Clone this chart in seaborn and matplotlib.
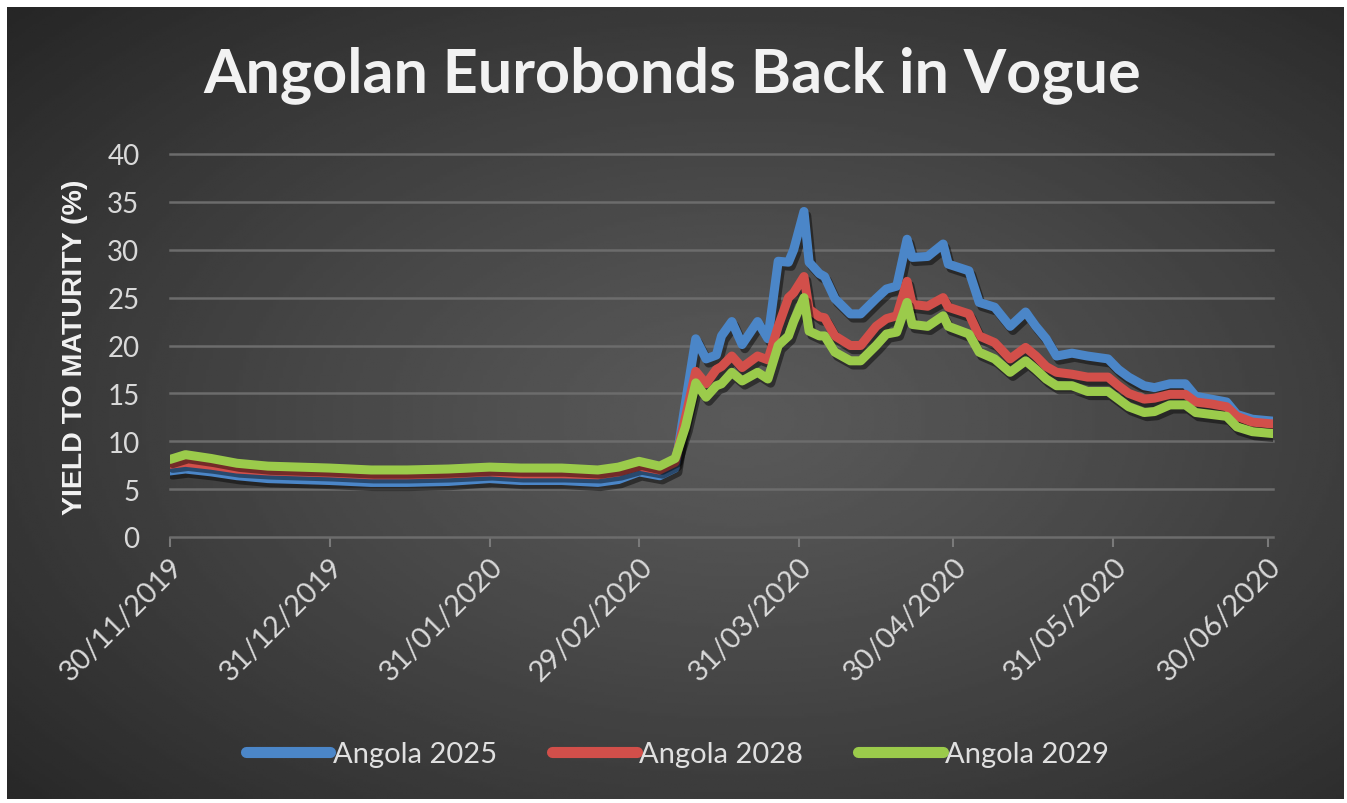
import numpy as np
import pandas as pd
import matplotlib
matplotlib.use("Agg")
import matplotlib.pyplot as plt
import matplotlib.dates as mdates
import matplotlib.patheffects as pe
import seaborn as sns

# ---------------- data ----------------
dates = [
    "2019-11-30", "2019-12-03", "2019-12-08", "2019-12-13", "2019-12-19", "2019-12-25", "2019-12-31",
    "2020-01-08", "2020-01-15", "2020-01-23", "2020-01-31", "2020-02-06", "2020-02-14", "2020-02-21",
    "2020-02-25", "2020-02-29",
    "2020-03-04", "2020-03-07", "2020-03-09", "2020-03-11", "2020-03-13", "2020-03-15", "2020-03-16",
    "2020-03-18", "2020-03-20", "2020-03-23", "2020-03-25", "2020-03-27", "2020-03-29", "2020-03-30",
    "2020-04-01", "2020-04-02", "2020-04-04", "2020-04-05", "2020-04-07", "2020-04-10", "2020-04-12",
    "2020-04-15", "2020-04-17", "2020-04-19", "2020-04-21", "2020-04-22", "2020-04-25", "2020-04-28",
    "2020-04-29",
    "2020-05-03", "2020-05-05", "2020-05-08", "2020-05-11", "2020-05-14", "2020-05-16", "2020-05-18",
    "2020-05-20", "2020-05-23", "2020-05-26", "2020-05-30",
    "2020-06-01", "2020-06-03", "2020-06-06", "2020-06-08", "2020-06-11", "2020-06-14", "2020-06-16",
    "2020-06-19", "2020-06-22", "2020-06-24", "2020-06-27", "2020-07-01",
]

angola_2025 = [
    6.9, 7.1, 6.8, 6.4, 6.1, 6.0, 5.9,
    5.7, 5.7, 5.8, 6.1, 5.9, 5.9, 5.7, 6.0, 6.8,
    6.4, 7.2, 14.0, 20.7, 18.6, 19.0, 21.0, 22.5, 20.1, 22.5, 20.7, 28.8, 28.7, 30.0,
    34.0, 28.7, 27.5, 27.2, 24.9, 23.3, 23.3, 24.9, 25.9, 26.2, 31.1, 29.2, 29.3, 30.6, 28.5,
    27.8, 24.5, 24.0, 22.0, 23.5, 22.0, 20.7, 18.9, 19.2, 18.9, 18.6,
    17.5, 16.7, 15.8, 15.6, 16.0, 16.0, 14.7, 14.4, 14.1, 12.8, 12.3, 12.1,
]

angola_2028 = [
    7.6, 7.8, 7.5, 7.1, 6.9, 6.8, 6.7,
    6.5, 6.5, 6.6, 6.8, 6.6, 6.6, 6.5, 6.8, 7.4,
    7.0, 7.8, 12.5, 17.3, 16.0, 17.5, 17.8, 18.9, 17.7, 18.9, 18.5, 22.0, 25.0, 25.5,
    27.2, 23.8, 23.0, 22.9, 21.0, 20.0, 20.0, 22.0, 22.8, 23.1, 26.7, 24.3, 24.1, 25.0, 24.0,
    23.3, 21.0, 20.3, 18.6, 19.8, 18.9, 17.8, 17.2, 17.0, 16.7, 16.7,
    15.8, 15.0, 14.4, 14.5, 14.9, 14.9, 14.1, 13.9, 13.6, 12.6, 12.0, 11.8,
]

angola_2029 = [
    8.1, 8.6, 8.2, 7.7, 7.4, 7.3, 7.2,
    7.0, 7.0, 7.1, 7.3, 7.2, 7.2, 7.0, 7.3, 7.9,
    7.4, 8.2, 11.5, 16.1, 14.6, 15.8, 16.0, 17.2, 16.3, 17.2, 16.5, 20.0, 21.0, 22.5,
    25.0, 21.5, 21.0, 21.0, 19.3, 18.4, 18.4, 20.0, 21.2, 21.4, 24.5, 22.2, 22.0, 23.1, 22.0,
    21.2, 19.3, 18.6, 17.2, 18.4, 17.5, 16.5, 15.8, 15.8, 15.2, 15.2,
    14.4, 13.6, 13.0, 13.1, 13.8, 13.8, 13.0, 12.8, 12.6, 11.5, 11.0, 10.8,
]

series_names = ["Angola 2025", "Angola 2028", "Angola 2029"]
series_colors = ["#4b86c8", "#d24f4a", "#9bcb4b"]
tick_dates = ["2019-11-30", "2019-12-31", "2020-01-31", "2020-02-29",
              "2020-03-31", "2020-04-30", "2020-05-31", "2020-06-30"]
y_ticks = [0, 5, 10, 15, 20, 25, 30, 35, 40]
title_text = "Angolan Eurobonds Back in Vogue"
y_label = "YIELD TO MATURITY (%)"

assert len(dates) == len(angola_2025) == len(angola_2028) == len(angola_2029)

df = pd.DataFrame({
    "date": pd.to_datetime(dates * 3),
    "yield": angola_2025 + angola_2028 + angola_2029,
    "bond": sum([[n] * len(dates) for n in series_names], []),
})

# ---------------- figure ----------------
W, H = 1347, 804
fig = plt.figure(figsize=(W / 100, H / 100), dpi=100, facecolor="white")

# dark radial-gradient panel
bg = fig.add_axes([7 / W, 1 - 800 / H, (1344 - 7) / W, (800 - 8) / H], zorder=0)
gx, gy = np.meshgrid(np.linspace(0, 1, 400), np.linspace(0, 1, 300))
r = np.sqrt(((gx - 0.55) / 0.75) ** 2 + ((gy - 0.52) / 0.75) ** 2)
shade = 0.35 - 0.20 * np.clip(r, 0, 1) ** 1.2
bg.imshow(shade, cmap="gray", vmin=0, vmax=1, aspect="auto", extent=[0, 1, 0, 1])
bg.set_axis_off()

ax = fig.add_axes([170 / W, 1 - 538 / H, (1273 - 170) / W, (538 - 155) / H], zorder=2)
ax.set_facecolor("none")

sns.lineplot(data=df, x="date", y="yield", hue="bond", hue_order=series_names,
             palette=series_colors, linewidth=6.5, ax=ax, legend=True,
             solid_capstyle="round", solid_joinstyle="round")

for ln in ax.get_lines():
    ln.set_path_effects([pe.SimpleLineShadow(offset=(2, -3), shadow_color="black", alpha=0.45),
                         pe.Normal()])

ax.set_ylim(0, 40)
ax.set_xlim(pd.Timestamp("2019-11-30"), pd.Timestamp("2020-07-01"))
ax.set_yticks(y_ticks)
ax.set_xticks(pd.to_datetime(tick_dates))
ax.xaxis.set_major_formatter(mdates.DateFormatter("%d/%m/%Y"))

for s in ax.spines.values():
    s.set_visible(False)
ax.yaxis.grid(True, color="#6c6c6c", linewidth=1.8)
ax.xaxis.grid(False)
ax.set_axisbelow(True)
for gl in ax.get_ygridlines():
    gl.set_clip_on(False)

tick_font = "Lato"
ax.tick_params(axis="y", length=0, pad=22, labelsize=20, labelcolor="#d9d9d9")
ax.tick_params(axis="x", length=7, width=1.5, color="#7a7a7a", pad=4,
               labelsize=21, labelcolor="#d9d9d9")
for lab in ax.get_yticklabels():
    lab.set_fontfamily(tick_font)
for lab in ax.get_xticklabels():
    lab.set_fontfamily(tick_font)
    lab.set_rotation(45)
    lab.set_ha("right")
    lab.set_va("top")
    lab.set_rotation_mode("anchor")

ax.set_xlabel("")
ax.set_ylabel("")

# legend at bottom
handles, labels = ax.get_legend_handles_labels()
ax.get_legend().remove()
leg = fig.legend(handles, labels, loc="center", bbox_to_anchor=(0.503, 1 - 755 / H),
                 ncol=3, frameon=False, handlelength=2.9, handletextpad=0.08,
                 columnspacing=1.9, prop={"family": tick_font, "size": 21})
for t in leg.get_texts():
    t.set_color("#e0e0e0")
for h in leg.legend_handles:
    h.set_linewidth(8)
    h.set_solid_capstyle("round")
    h.set_path_effects([])

# titles
fig.text(672 / W, 1 - 75 / H, title_text, ha="center", va="center",
         fontsize=44, fontweight="bold", color="#f2f2f2", family="Lato")
fig.text(75 / W, 1 - 347 / H, y_label, ha="center", va="center", rotation=90,
         fontsize=20.5, fontweight="bold", color="#f2f2f2", family="Liberation Sans")

fig.savefig("out.png", dpi=100, facecolor="white")
